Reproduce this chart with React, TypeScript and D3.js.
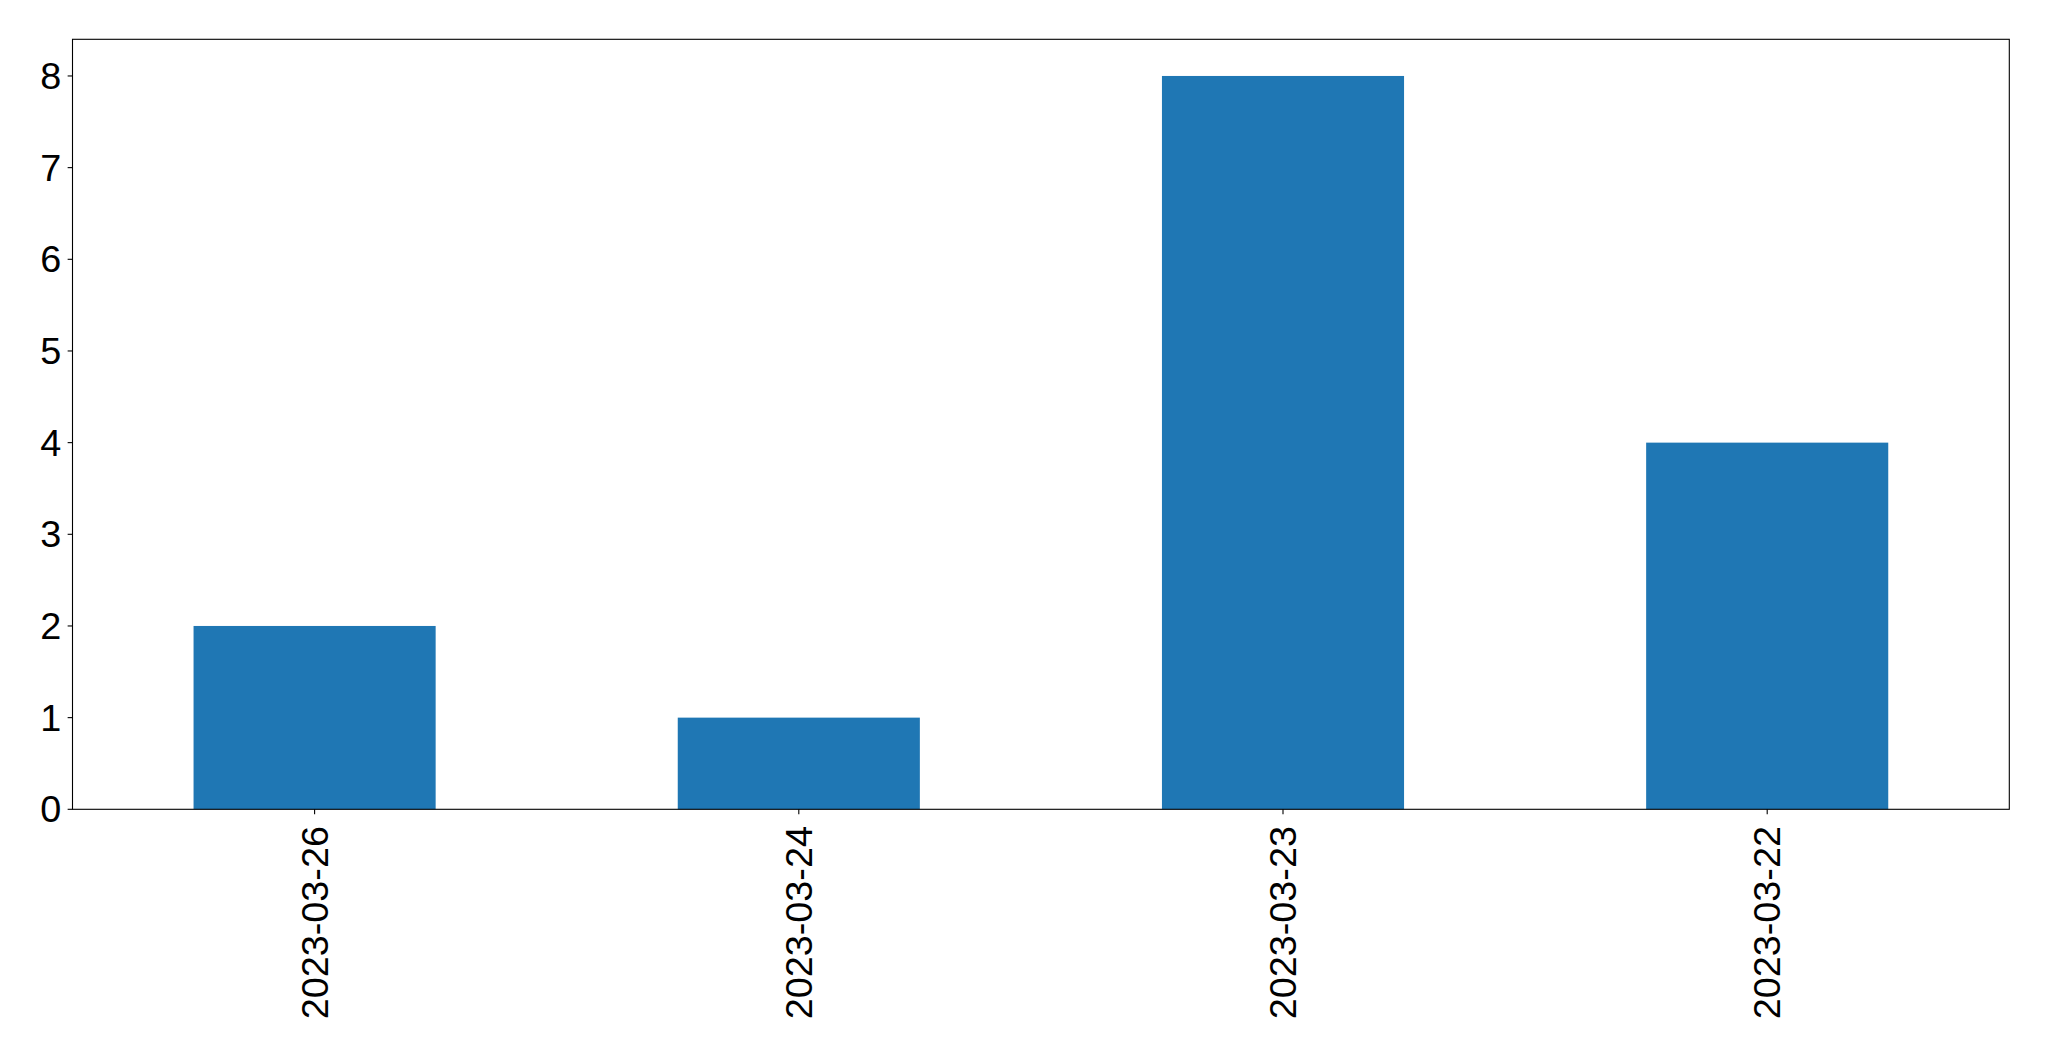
import React from "react";
import * as d3 from "d3";

const categories = ["2023-03-26", "2023-03-24", "2023-03-23", "2023-03-22"];
const values = [2, 1, 8, 4];
const yTicks = [0, 1, 2, 3, 4, 5, 6, 7, 8];

const W = 2049;
const H = 1061;
const M = { left: 72.5, right: 2009.3, top: 39.3, bottom: 809.3 };
const FONT = "'Liberation Sans', Arial, sans-serif";
const FS = 37.8;

export default function App() {
  const x = d3
    .scaleLinear()
    .domain([-0.5, categories.length - 0.5])
    .range([M.left, M.right]);
  const y = d3.scaleLinear().domain([0, 8.4]).range([M.bottom, M.top]);
  const bw = x(0.25) - x(-0.25);
  const tick = 4.86;
  const pad = 4.86;

  return (
    <svg
      width={W}
      height={H}
      style={{ position: "absolute", left: 0, top: 0, background: "#fff" }}
    >
      <rect x={0} y={0} width={W} height={H} fill="#fff" />
      {values.map((v, i) => (
        <rect
          key={i}
          x={x(i) - bw / 2}
          y={y(v)}
          width={bw}
          height={y(0) - y(v)}
          fill="#1f77b4"
        />
      ))}
      <rect
        x={M.left}
        y={M.top}
        width={M.right - M.left}
        height={M.bottom - M.top}
        fill="none"
        stroke="#000"
        strokeWidth={1.1}
      />
      {yTicks.map((t) => (
        <g key={t}>
          <line
            x1={M.left - tick}
            x2={M.left}
            y1={y(t)}
            y2={y(t)}
            stroke="#000"
            strokeWidth={1.1}
          />
          <text
            x={M.left - tick - pad - 1.5}
            y={y(t)}
            textAnchor="end"
            dominantBaseline="central"
            fontFamily={FONT}
            fontSize={FS}
            fill="#000"
          >
            {t}
          </text>
        </g>
      ))}
      {categories.map((c, i) => (
        <g key={c}>
          <line
            x1={x(i)}
            x2={x(i)}
            y1={M.bottom}
            y2={M.bottom + tick}
            stroke="#000"
            strokeWidth={1.1}
          />
          <text
            transform={`translate(${x(i)},${M.bottom + tick + pad + 7}) rotate(-90)`}
            textAnchor="end"
            dominantBaseline="central"
            fontFamily={FONT}
            fontSize={FS}
            fill="#000"
          >
            {c}
          </text>
        </g>
      ))}
    </svg>
  );
}
